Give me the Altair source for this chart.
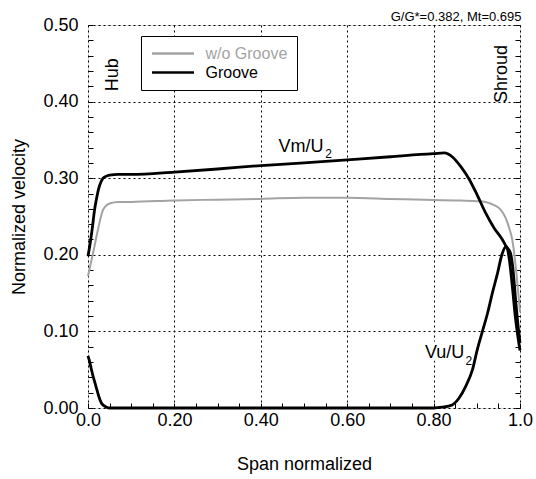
import altair as alt
import pandas as pd

# ---------------- data ----------------
span_wo = [0, 0.005, 0.01, 0.015, 0.02, 0.025, 0.03, 0.035, 0.04, 0.05, 0.07, 0.1, 0.2, 0.3,
           0.4, 0.5, 0.6, 0.7, 0.8, 0.85, 0.9, 0.92, 0.94, 0.955, 0.967, 0.975, 0.982, 0.99,
           0.996, 1.0]
vm_wo = [0.172, 0.185, 0.198, 0.211, 0.225, 0.238, 0.25, 0.259, 0.263, 0.267, 0.269, 0.269,
         0.271, 0.272, 0.273, 0.2745, 0.2745, 0.273, 0.2715, 0.271, 0.27, 0.269, 0.265, 0.259,
         0.248, 0.235, 0.22, 0.185, 0.15, 0.125]

span_vm_g = [0, 0.005, 0.01, 0.015, 0.02, 0.025, 0.03, 0.035, 0.04, 0.05, 0.07, 0.1, 0.2,
             0.3, 0.4, 0.5, 0.6, 0.7, 0.77, 0.8, 0.825, 0.843, 0.863, 0.882, 0.901, 0.921,
             0.94, 0.959, 0.968, 0.978, 0.983, 0.99, 0.995, 1.0]
vm_g = [0.198, 0.215, 0.235, 0.258, 0.274, 0.287, 0.295, 0.300, 0.302, 0.304, 0.305, 0.305,
        0.308, 0.312, 0.3165, 0.320, 0.324, 0.328, 0.331, 0.332, 0.333, 0.328, 0.315, 0.299,
        0.278, 0.254, 0.235, 0.22, 0.211, 0.202, 0.185, 0.14, 0.11, 0.085]

span_vu_g = [0, 0.004, 0.008, 0.012, 0.016, 0.02, 0.025, 0.031, 0.037, 0.043, 0.05, 0.1, 0.3,
             0.5, 0.7, 0.8, 0.82, 0.843, 0.859, 0.874, 0.89, 0.901, 0.913, 0.925, 0.936,
             0.948, 0.958, 0.968, 0.975, 0.982, 0.99, 1.0]
vu_g = [0.068, 0.06, 0.05, 0.041, 0.033, 0.025, 0.015, 0.0065, 0.003, 0.001, 0, 0, 0, 0, 0,
        0, 0.001, 0.004, 0.013, 0.028, 0.05, 0.076, 0.10, 0.124, 0.15, 0.176, 0.20, 0.211,
        0.195, 0.16, 0.115, 0.075]

cases = ["w/o Groove", "Groove"]
x_major = [0, 0.2, 0.4, 0.6, 0.8, 1.0]
y_major = [0, 0.1, 0.2, 0.3, 0.4, 0.5]
x_minor = [i / 20 for i in range(21)]
y_minor = [i / 50 for i in range(26)]

# annotations
ann_rot_text = ["Hub", "Shroud"]
ann_rot_x = [0.069, 0.971]
ann_rot_y = [0.435, 0.436]
ann_main_text = ["Vm/U", "Vu/U"]
ann_main_x = [0.441, 0.780]
ann_main_y = [0.3347, 0.065]
ann_sub_text = ["2", "2"]
ann_sub_x = [0.549, 0.874]
ann_sub_y = [0.326, 0.0555]

FONT = "Liberation Sans"

rows = []
for s, v in zip(span_wo, vm_wo):
    rows.append({"span": s, "vel": v, "case": "w/o Groove", "curve": "Vm w/o"})
grey_df = pd.DataFrame(rows)
rows = []
for s, v in zip(span_vm_g, vm_g):
    rows.append({"span": s, "vel": v, "case": "Groove", "curve": "Vm groove"})
for s, v in zip(span_vu_g, vu_g):
    rows.append({"span": s, "vel": v, "case": "Groove", "curve": "Vu groove"})
black_df = pd.DataFrame(rows)

rot_df = pd.DataFrame({"x": ann_rot_x, "y": ann_rot_y, "t": ann_rot_text})
main_df = pd.DataFrame({"x": ann_main_x, "y": ann_main_y, "t": ann_main_text})
sub_df = pd.DataFrame({"x": ann_sub_x, "y": ann_sub_y, "t": ann_sub_text})

xs = alt.Scale(domain=[0, 1], nice=False, zero=False)
ys = alt.Scale(domain=[0, 0.5], nice=False)

color = alt.Color(
    "case:N",
    scale=alt.Scale(domain=cases, range=["#a3a3a3", "#000000"]),
    legend=alt.Legend(
        title=None, orient="none", legendX=53, legendY=11,
        strokeColor="#000000", fillColor="#ffffff", padding=9.5,
        symbolType="stroke", symbolSize=1764, symbolStrokeWidth=2.5, clipHeight=16,
        labelFont=FONT, labelFontSize=16, labelOffset=10, rowPadding=3,
        labelColor=alt.ExprRef("datum.label == 'w/o Groove' ? '#a3a3a3' : '#000000'"),
        cornerRadius=0,
    ),
)

main_x_axis = alt.Axis(
    orient="bottom", values=x_major, grid=True, gridDash=[2, 3], gridColor="#000000",
    gridOpacity=1, gridWidth=1, ticks=False, tickSize=0, domain=False,
    labelExpr="datum.value == 0 ? '0.0' : datum.value == 1 ? '1.0' : format(datum.value, '.2f')",
    labelFont=FONT, labelFontSize=18, labelColor="#000000", labelPadding=3,
    labelFlush=False, labelOverlap=False,
    title="Span normalized", titleFont=FONT, titleFontSize=18, titleFontWeight="normal",
    titleColor="#000000", titlePadding=26,
)
main_y_axis = alt.Axis(
    orient="left", values=y_major, grid=True, gridDash=[2, 3], gridColor="#000000",
    gridOpacity=1, gridWidth=1, ticks=False, tickSize=0, domain=False, format=".2f",
    labelFont=FONT, labelFontSize=18, labelColor="#000000", labelPadding=10,
    labelFlush=False, labelOverlap=False,
    title="Normalized velocity", titleFont=FONT, titleFontSize=18, titleFontWeight="normal",
    titleColor="#000000", titlePadding=14,
)
minor_x_axis = alt.Axis(
    orient="bottom", values=x_minor, offset=-5, tickSize=5, tickColor="#000000",
    tickWidth=1, labels=False, grid=False, domain=False, title=None,
)
minor_y_axis = alt.Axis(
    orient="left", values=y_minor, offset=-5, tickSize=5, tickColor="#000000",
    tickWidth=1, labels=False, grid=False, domain=False, title=None,
)
right_y_axis = alt.Axis(
    orient="right", values=y_minor, offset=-5, tickSize=5, tickColor="#000000",
    tickWidth=1, labels=False, grid=False, domain=False, title=None,
)

grey = alt.Chart(grey_df).mark_line(strokeWidth=2, interpolate="monotone").encode(
    x=alt.X("span:Q", scale=xs, axis=main_x_axis),
    y=alt.Y("vel:Q", scale=ys, axis=main_y_axis),
    color=color,
    detail="curve:N",
)
black = alt.Chart(black_df).mark_line(strokeWidth=2.8, interpolate="monotone").encode(
    x=alt.X("span:Q", scale=xs, axis=minor_x_axis),
    y=alt.Y("vel:Q", scale=ys, axis=minor_y_axis),
    color=color,
    detail="curve:N",
)
rot = alt.Chart(rot_df).mark_text(
    angle=270, align="center", baseline="alphabetic", font=FONT, fontSize=18, color="#000000"
).encode(
    x=alt.X("x:Q", scale=xs, axis=None),
    y=alt.Y("y:Q", scale=ys, axis=right_y_axis),
    text="t:N",
)
# white halo behind the curve labels (masks the grid, like the label box in the reference)
halo = alt.Chart(main_df).mark_text(
    align="left", baseline="alphabetic", font=FONT, fontSize=18,
    fill="#ffffff", stroke="#ffffff", strokeWidth=7, strokeJoin="round",
).encode(
    x=alt.X("x:Q", scale=xs, axis=None),
    y=alt.Y("y:Q", scale=ys, axis=None),
    text="t:N",
)
main_txt = alt.Chart(main_df).mark_text(
    align="left", baseline="alphabetic", font=FONT, fontSize=18, color="#000000"
).encode(
    x=alt.X("x:Q", scale=xs, axis=None),
    y=alt.Y("y:Q", scale=ys, axis=None),
    text="t:N",
)
sub_txt = alt.Chart(sub_df).mark_text(
    align="left", baseline="alphabetic", font=FONT, fontSize=12, color="#000000"
).encode(
    x=alt.X("x:Q", scale=xs, axis=None),
    y=alt.Y("y:Q", scale=ys, axis=None),
    text="t:N",
)

chart = alt.layer(halo, grey, black, rot, main_txt, sub_txt).resolve_axis(
    x="independent", y="independent"
).properties(
    width=432, height=383,
    padding={"left": 88, "top": 25, "right": 16, "bottom": 71},
    autosize=alt.AutoSizeParams(type="none"),
    title=alt.TitleParams(
        "G/G*=0.382, Mt=0.695", anchor="end", font=FONT, fontSize=13,
        fontWeight="normal", color="#000000", dx=-11, dy=14, offset=6,
    ),
).configure_view(
    stroke="#000000", strokeWidth=3.5
).configure(background="#ffffff")

chart.save("out.html", embed_options={"renderer": "svg", "actions": False})
